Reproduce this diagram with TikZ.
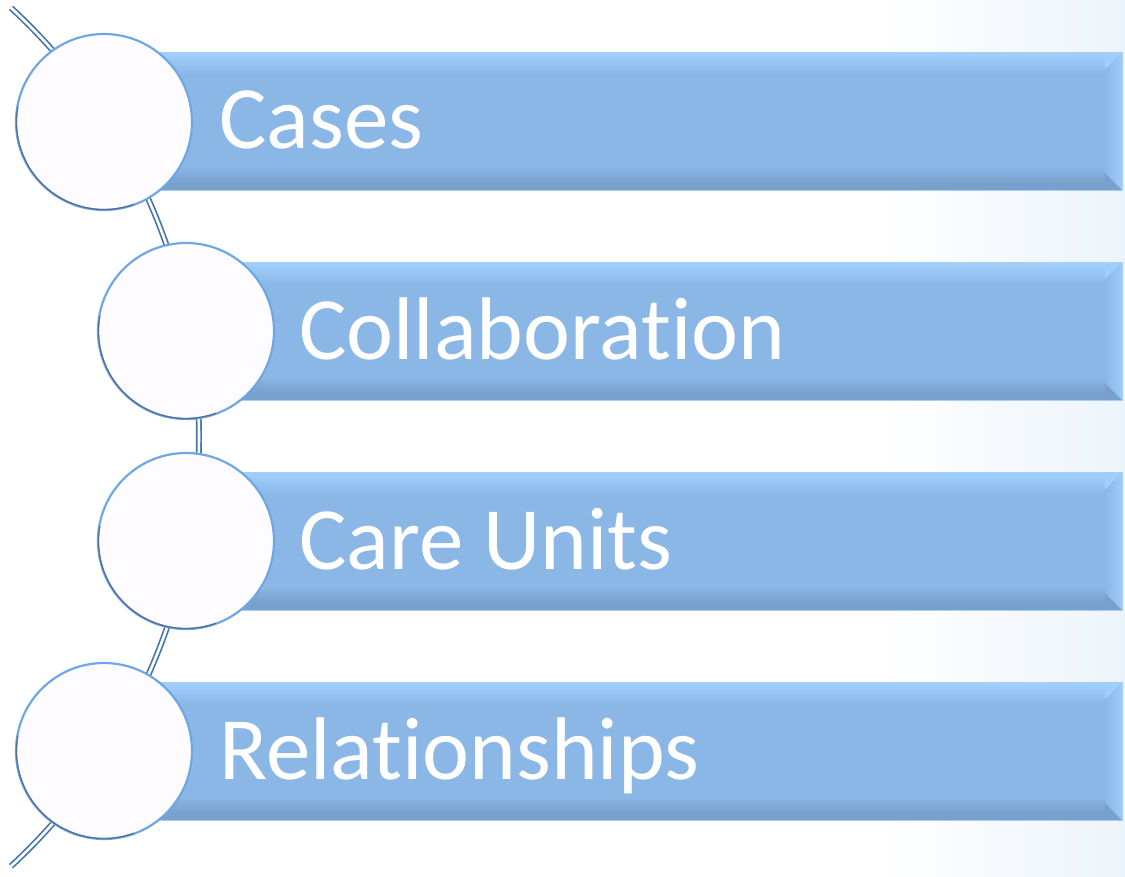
\documentclass[tikz,border=0pt]{standalone}
\usepackage{fontspec}
\setmainfont[RawFeature=-liga]{Carlito}
\usetikzlibrary{calc}
\definecolor{barmain}{RGB}{138,183,230}
\definecolor{bartop}{RGB}{158,206,252}
\definecolor{barbot}{RGB}{120,160,204}
\definecolor{barright}{RGB}{158,205,250}
\definecolor{baredge}{RGB}{170,205,240}
\definecolor{arcblue}{RGB}{70,118,170}
\definecolor{ringlight}{RGB}{110,168,228}
\definecolor{ringdark}{RGB}{85,112,150}
\definecolor{circfill}{RGB}{254,252,254}
\definecolor{bgblue}{RGB}{236,244,251}
\tikzset{
  barbox/.style={rectangle, draw=baredge, line width=0.8pt, fill=barmain, inner sep=0pt,
    minimum height=138pt, anchor=north west},
  ringnode/.style={circle, fill=circfill, draw=ringlight, line width=2.2pt, minimum size=176pt, inner sep=0pt},
  label/.style={text=white, inner sep=0pt, anchor=base west, font=\fontsize{89}{89}\selectfont},
  arcline/.style={draw=arcblue, line width=1.7pt, double=white, double distance=2.6pt}
}
\newcommand\bevelbar[1]{%
  \fill[bartop] (#1.north west) -- (#1.north east) -- ($(#1.north east)+(-18,18)$) -- ($(#1.north west)+(0,18)$) -- cycle;
  \shade[top color=bartop, bottom color=barmain] ($(#1.north west)+(0,3)$) rectangle ($(#1.north east)+(-18,22)$);
  \fill[barbot] (#1.south west) -- (#1.south east) -- ($(#1.south east)+(-18,-18)$) -- ($(#1.south west)+(0,-18)$) -- cycle;
  \shade[top color=barmain, bottom color=barbot] ($(#1.south west)+(0,-24)$) rectangle ($(#1.south east)+(-18,-8)$);
  \shade[left color=barmain, right color=barright] (#1.north east) -- (#1.south east) -- ($(#1.south east)+(-18,-18)$) -- ($(#1.north east)+(-18,18)$) -- cycle;
  \draw[baredge, line width=0.8pt] (#1.north west) rectangle (#1.south east);
}
\begin{document}
\begin{tikzpicture}[x=1pt,y=-1pt]
\useasboundingbox (0,0) rectangle (1125,876);
\fill[white] (0,0) rectangle (1125,876);
\shade[left color=white, right color=bgblue] (880,0) rectangle (1125,876);
% arc through the circles
\draw[arcline] (-385,437) ++(-47.3:584) arc[start angle=-47.3, end angle=47.3, radius=584];
% bars
\node[barbox, minimum width=965pt] (b1) at (157,52) {};
\node[barbox, minimum width=883pt] (b2) at (239,262) {};
\node[barbox, minimum width=883pt] (b3) at (239,472) {};
\node[barbox, minimum width=965pt] (b4) at (157,682) {};
\bevelbar{b1}
\bevelbar{b2}
\bevelbar{b3}
\bevelbar{b4}
% circles
\node[ringnode] (c1) at (104,122) {};
\node[ringnode] (c2) at (186,331) {};
\node[ringnode] (c3) at (186,541) {};
\node[ringnode] (c4) at (104,751) {};
\foreach \c in {c1,c2,c3,c4}{
  \draw[ringdark, line width=1.3pt] (\c.center) ++(170:87.5pt) arc[start angle=170, end angle=290, radius=87.5pt];
}
% labels
\node[label] (t1) at (219,148) {Cases};
\node[label] (t2) at (299,359) {Collaboration};
\node[label] (t3) at (299,569) {Care Units};
\node[label] (t4) at (219,779) {Relationships};
\end{tikzpicture}
\end{document}
